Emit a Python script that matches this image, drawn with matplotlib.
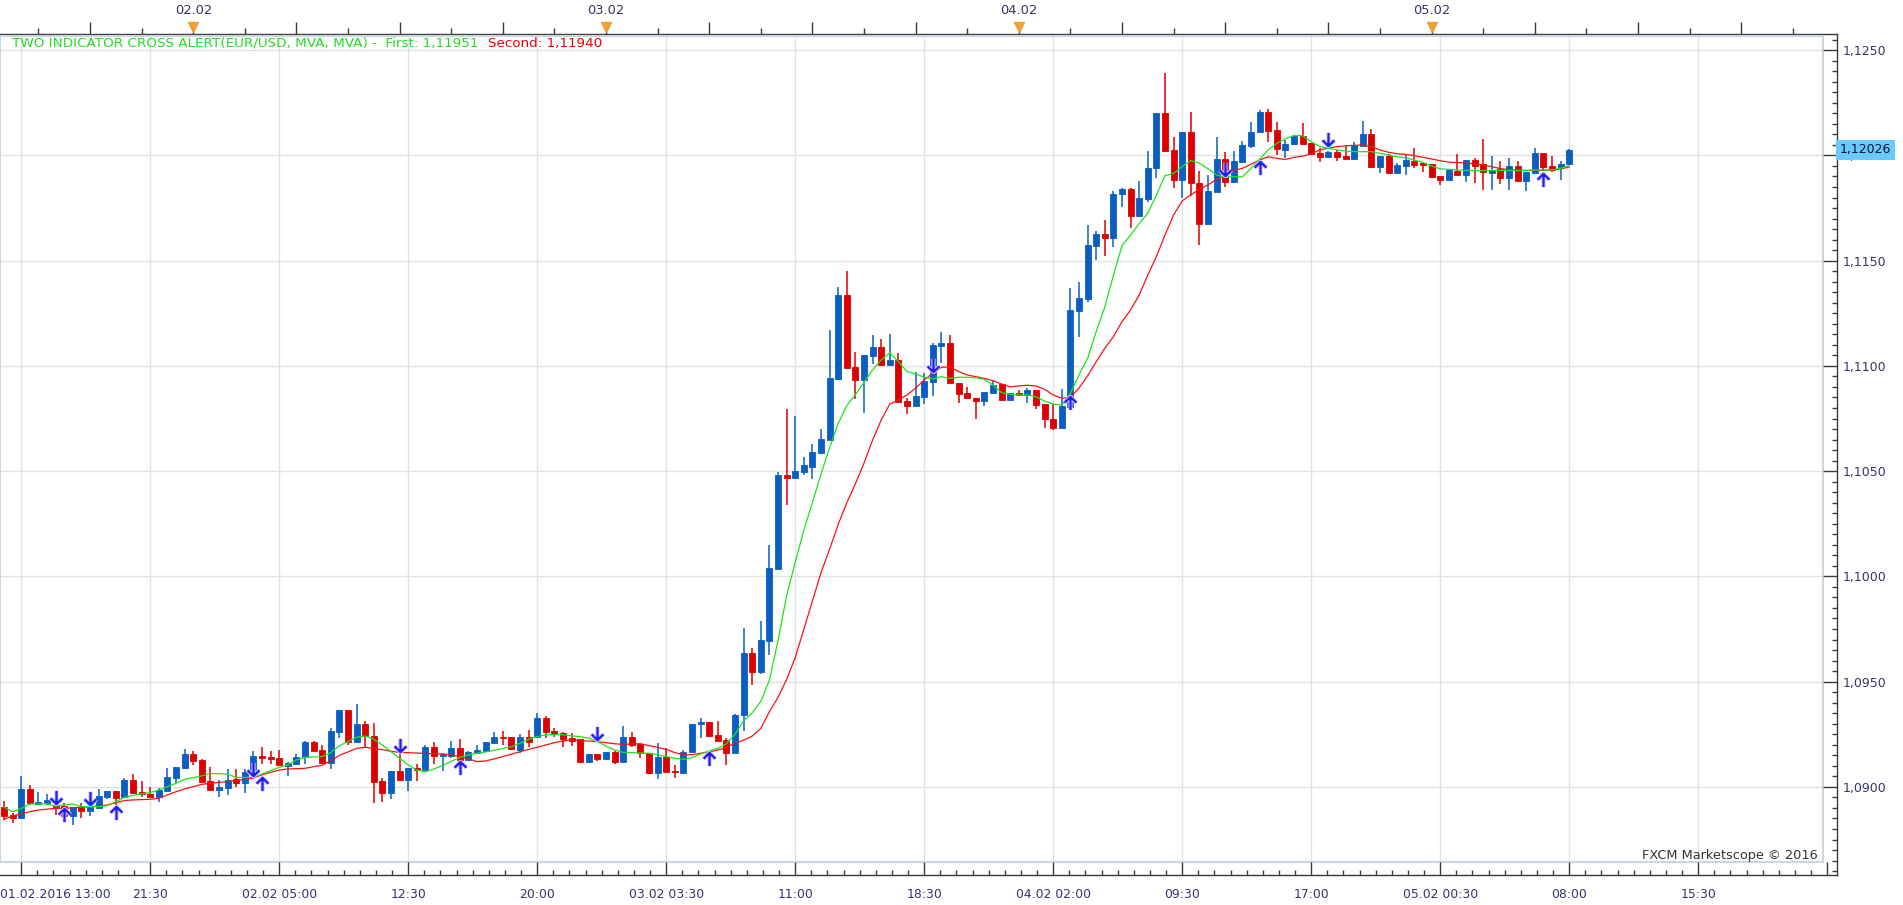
import numpy as np
import matplotlib
matplotlib.use('Agg')
import matplotlib.pyplot as plt
from matplotlib.ticker import FixedLocator, NullFormatter
from matplotlib.patches import Rectangle
from matplotlib.path import Path

# ---------------- data (EUR/USD, 30-min candles, 01.02.2016 13:00 -> 05.02.2016 08:00) -------------
open_ = [1.08906, 1.08866, 1.08851, 1.08990, 1.08919, 1.08925, 1.08914, 1.08909, 1.08862, 1.08906,
         1.08887, 1.08898, 1.08954, 1.08980, 1.08950, 1.09033, 1.08977, 1.08966, 1.08954, 1.08982,
         1.09041, 1.09088, 1.09156, 1.09128, 1.09030, 1.08985, 1.08996, 1.09036, 1.09020, 1.09068,
         1.09147, 1.09142, 1.09136, 1.09099, 1.09109, 1.09144, 1.09215, 1.09175, 1.09115, 1.09262,
         1.09365, 1.09215, 1.09299, 1.09242, 1.09030, 1.08970, 1.09076, 1.09033, 1.09088, 1.09080,
         1.09188, 1.09148, 1.09148, 1.09183, 1.09128, 1.09163, 1.09170, 1.09210, 1.09235, 1.09235,
         1.09175, 1.09235, 1.09235, 1.09326, 1.09266, 1.09254, 1.09231, 1.09226, 1.09120, 1.09156,
         1.09133, 1.09164, 1.09120, 1.09239, 1.09204, 1.09159, 1.09064, 1.09140, 1.09077, 1.09068,
         1.09164, 1.09297, 1.09307, 1.09247, 1.09223, 1.09159, 1.09340, 1.09638, 1.09548, 1.09695,
         1.10036, 1.10481, 1.10469, 1.10497, 1.10522, 1.10587, 1.10649, 1.10939, 1.11338, 1.10995,
         1.10934, 1.11047, 1.11088, 1.11004, 1.11028, 1.10835, 1.10811, 1.10854, 1.10925, 1.11095,
         1.11110, 1.10920, 1.10873, 1.10849, 1.10835, 1.10873, 1.10912, 1.10838, 1.10873, 1.10862,
         1.10886, 1.10819, 1.10748, 1.10704, 1.10806, 1.11263, 1.11318, 1.11570, 1.11627, 1.11609,
         1.11815, 1.11841, 1.11714, 1.11793, 1.11939, 1.12200, 1.12026, 1.11883, 1.12110, 1.11868,
         1.11674, 1.11828, 1.11983, 1.11875, 1.11970, 1.12046, 1.12110, 1.12205, 1.12121, 1.12026,
         1.12053, 1.12092, 1.12061, 1.12010, 1.11994, 1.12015, 1.11997, 1.11983, 1.12046, 1.12102,
         1.11947, 1.11999, 1.11918, 1.11951, 1.11975, 1.11962, 1.11958, 1.11902, 1.11883, 1.11928,
         1.11907, 1.11978, 1.11959, 1.11918, 1.11934, 1.11894, 1.11950, 1.11879, 1.11918, 1.12013,
         1.11950, 1.11947, 1.11958]
high = [1.08933, 1.08874, 1.09052, 1.09007, 1.08977, 1.08964, 1.08922, 1.08925, 1.08906, 1.08922,
        1.08930, 1.08990, 1.08980, 1.08980, 1.09044, 1.09061, 1.09030, 1.09001, 1.08993, 1.09088,
        1.09093, 1.09178, 1.09172, 1.09131, 1.09093, 1.09033, 1.09083, 1.09083, 1.09083, 1.09172,
        1.09188, 1.09170, 1.09175, 1.09120, 1.09156, 1.09218, 1.09220, 1.09199, 1.09278, 1.09365,
        1.09365, 1.09394, 1.09315, 1.09302, 1.09041, 1.09076, 1.09159, 1.09091, 1.09109, 1.09199,
        1.09212, 1.09159, 1.09218, 1.09226, 1.09172, 1.09199, 1.09215, 1.09262, 1.09266, 1.09235,
        1.09251, 1.09270, 1.09349, 1.09337, 1.09281, 1.09262, 1.09254, 1.09226, 1.09156, 1.09156,
        1.09167, 1.09172, 1.09289, 1.09262, 1.09210, 1.09159, 1.09210, 1.09183, 1.09104, 1.09175,
        1.09299, 1.09326, 1.09307, 1.09313, 1.09231, 1.09346, 1.09756, 1.09658, 1.09790, 1.10149,
        1.10497, 1.10796, 1.10764, 1.10567, 1.10631, 1.10702, 1.11171, 1.11376, 1.11451, 1.11067,
        1.11051, 1.11147, 1.11126, 1.11152, 1.11060, 1.10846, 1.10970, 1.10968, 1.11110, 1.11163,
        1.11147, 1.10920, 1.10901, 1.10849, 1.10875, 1.10930, 1.10912, 1.10873, 1.10886, 1.10894,
        1.10886, 1.10819, 1.10818, 1.10890, 1.11369, 1.11400, 1.11670, 1.11641, 1.11693, 1.11831,
        1.11847, 1.11847, 1.11879, 1.12021, 1.12200, 1.12390, 1.12089, 1.12110, 1.12205, 1.11926,
        1.11907, 1.12089, 1.12018, 1.12021, 1.12069, 1.12157, 1.12216, 1.12221, 1.12157, 1.12073,
        1.12097, 1.12155, 1.12061, 1.12034, 1.12023, 1.12026, 1.12045, 1.12065, 1.12164, 1.12126,
        1.11997, 1.12007, 1.11962, 1.12002, 1.12034, 1.11962, 1.11958, 1.11902, 1.11931, 1.12007,
        1.11978, 1.11986, 1.12078, 1.11997, 1.11974, 1.11986, 1.11974, 1.11923, 1.12034, 1.12013,
        1.11997, 1.11975, 1.12031]
low = [1.08843, 1.08827, 1.08851, 1.08914, 1.08914, 1.08914, 1.08866, 1.08835, 1.08819, 1.08854,
       1.08862, 1.08895, 1.08941, 1.08914, 1.08950, 1.08970, 1.08954, 1.08950, 1.08930, 1.08982,
       1.09017, 1.09085, 1.09104, 1.09025, 1.08985, 1.08954, 1.08962, 1.08998, 1.08973, 1.09049,
       1.09109, 1.09109, 1.09104, 1.09053, 1.09104, 1.09109, 1.09171, 1.09115, 1.09087, 1.09231,
       1.09199, 1.09215, 1.09191, 1.08922, 1.08930, 1.08941, 1.09033, 1.08982, 1.09030, 1.09080,
       1.09109, 1.09077, 1.09136, 1.09120, 1.09128, 1.09159, 1.09168, 1.09207, 1.09199, 1.09175,
       1.09159, 1.09191, 1.09235, 1.09231, 1.09239, 1.09191, 1.09194, 1.09120, 1.09120, 1.09125,
       1.09133, 1.09109, 1.09120, 1.09191, 1.09136, 1.09061, 1.09036, 1.09072, 1.09041, 1.09068,
       1.09164, 1.09231, 1.09239, 1.09220, 1.09106, 1.09159, 1.09267, 1.09486, 1.09535, 1.09627,
       1.10036, 1.10337, 1.10464, 1.10481, 1.10464, 1.10584, 1.10649, 1.10931, 1.10991, 1.10841,
       1.10774, 1.11009, 1.11000, 1.11004, 1.10830, 1.10770, 1.10811, 1.10818, 1.10857, 1.11016,
       1.10917, 1.10826, 1.10846, 1.10746, 1.10811, 1.10873, 1.10838, 1.10838, 1.10857, 1.10825,
       1.10795, 1.10704, 1.10696, 1.10704, 1.10791, 1.11136, 1.11305, 1.11503, 1.11522, 1.11563,
       1.11757, 1.11657, 1.11709, 1.11780, 1.11894, 1.12015, 1.11847, 1.11799, 1.11809, 1.11575,
       1.11669, 1.11828, 1.11848, 1.11871, 1.11966, 1.12034, 1.12110, 1.12065, 1.12002, 1.11986,
       1.12050, 1.12054, 1.12002, 1.11970, 1.11989, 1.11974, 1.11983, 1.11983, 1.12046, 1.11942,
       1.11918, 1.11918, 1.11912, 1.11907, 1.11942, 1.11923, 1.11899, 1.11860, 1.11883, 1.11907,
       1.11875, 1.11871, 1.11836, 1.11836, 1.11864, 1.11836, 1.11879, 1.11833, 1.11918, 1.11926,
       1.11923, 1.11883, 1.11955]
close = [1.08862, 1.08851, 1.08990, 1.08922, 1.08928, 1.08938, 1.08903, 1.08862, 1.08903, 1.08887,
         1.08906, 1.08957, 1.08980, 1.08946, 1.09033, 1.08973, 1.08966, 1.08954, 1.08985, 1.09045,
         1.09093, 1.09156, 1.09125, 1.09025, 1.08985, 1.09001, 1.09033, 1.09017, 1.09072, 1.09147,
         1.09136, 1.09133, 1.09104, 1.09112, 1.09144, 1.09215, 1.09172, 1.09115, 1.09265, 1.09365,
         1.09215, 1.09299, 1.09242, 1.09025, 1.08970, 1.09076, 1.09033, 1.09091, 1.09080, 1.09188,
         1.09148, 1.09156, 1.09183, 1.09128, 1.09164, 1.09175, 1.09212, 1.09235, 1.09231, 1.09178,
         1.09235, 1.09215, 1.09326, 1.09262, 1.09251, 1.09228, 1.09220, 1.09120, 1.09156, 1.09133,
         1.09167, 1.09120, 1.09239, 1.09199, 1.09159, 1.09064, 1.09144, 1.09072, 1.09069, 1.09167,
         1.09299, 1.09307, 1.09244, 1.09220, 1.09160, 1.09343, 1.09638, 1.09548, 1.09699, 1.10042,
         1.10484, 1.10469, 1.10502, 1.10527, 1.10590, 1.10652, 1.10944, 1.11338, 1.10991, 1.10934,
         1.11051, 1.11088, 1.11004, 1.11028, 1.10830, 1.10811, 1.10857, 1.10929, 1.11099, 1.11110,
         1.10917, 1.10867, 1.10846, 1.10835, 1.10875, 1.10909, 1.10838, 1.10873, 1.10862, 1.10886,
         1.10814, 1.10746, 1.10704, 1.10811, 1.11266, 1.11322, 1.11575, 1.11627, 1.11609, 1.11817,
         1.11841, 1.11714, 1.11796, 1.11939, 1.12200, 1.12021, 1.11883, 1.12110, 1.11868, 1.11674,
         1.11831, 1.11983, 1.11875, 1.11974, 1.12050, 1.12110, 1.12205, 1.12118, 1.12029, 1.12053,
         1.12092, 1.12054, 1.12007, 1.11994, 1.12015, 1.11994, 1.11983, 1.12050, 1.12102, 1.11947,
         1.11997, 1.11918, 1.11955, 1.11978, 1.11955, 1.11955, 1.11899, 1.11883, 1.11931, 1.11907,
         1.11978, 1.11951, 1.11920, 1.11931, 1.11894, 1.11950, 1.11879, 1.11923, 1.12013, 1.11947,
         1.11931, 1.11959, 1.12026]

# fast (green) moving average: candle index -> value
fast_idx = [0, 1, 2, 3, 5, 6, 8, 9, 11, 12, 13, 14, 15, 17, 18, 19, 20, 21, 23, 24, 26, 27, 29, 30, 31,
            32, 33, 34, 35, 37, 38, 39, 40, 41, 42, 43, 44, 45, 46, 47, 48, 49, 50, 51, 52, 53, 54, 55,
            56, 57, 58, 59, 60, 61, 62, 63, 65, 66, 67, 68, 69, 70, 71, 72, 73, 74, 75, 76, 77, 78, 79,
            80, 81, 82, 83, 84, 85, 86, 87, 88, 89, 90, 91, 92, 93, 94, 95, 96, 97, 98, 99, 100, 101,
            102, 103, 104, 105, 106, 107, 108, 109, 110, 111, 112, 113, 114, 115, 116, 117, 118, 119,
            120, 121, 122, 123, 124, 125, 126, 127, 128, 129, 130, 131, 132, 133, 134, 135, 136, 137,
            138, 139, 140, 141, 142, 143, 144, 145, 146, 147, 148, 149, 150, 151, 152, 153, 154, 155,
            156, 157, 158, 159, 160, 161, 162, 163, 164, 165, 166, 167, 168, 170, 172, 174, 176, 178,
            180, 181, 182]
fast_val = [1.08903, 1.08882, 1.08897, 1.08919, 1.08919, 1.08909, 1.08919, 1.08906, 1.08906, 1.08911,
            1.08930, 1.08950, 1.08960, 1.08973, 1.08985, 1.09001, 1.09017, 1.09036, 1.09052, 1.09064,
            1.09061, 1.09045, 1.09045, 1.09061, 1.09077, 1.09093, 1.09104, 1.09128, 1.09140, 1.09144,
            1.09163, 1.09196, 1.09215, 1.09236, 1.09242, 1.09226, 1.09199, 1.09167, 1.09136, 1.09104,
            1.09080, 1.09072, 1.09085, 1.09102, 1.09121, 1.09140, 1.09152, 1.09160, 1.09166, 1.09174,
            1.09182, 1.09191, 1.09207, 1.09226, 1.09239, 1.09247, 1.09248, 1.09242, 1.09239, 1.09231,
            1.09215, 1.09194, 1.09175, 1.09164, 1.09163, 1.09161, 1.09160, 1.09152, 1.09144, 1.09136,
            1.09131, 1.09139, 1.09156, 1.09171, 1.09183, 1.09205, 1.09250, 1.09314, 1.09352, 1.09406,
            1.09507, 1.09695, 1.09908, 1.10067, 1.10219, 1.10350, 1.10486, 1.10612, 1.10727, 1.10812,
            1.10864, 1.10922, 1.10981, 1.11028, 1.11063, 1.11020, 1.10973, 1.10962, 1.10946, 1.10938,
            1.10949, 1.10941, 1.10946, 1.10946, 1.10944, 1.10936, 1.10909, 1.10873, 1.10865, 1.10862,
            1.10862, 1.10854, 1.10833, 1.10819, 1.10814, 1.10870, 1.10957, 1.11036, 1.11163, 1.11280,
            1.11430, 1.11571, 1.11622, 1.11677, 1.11725, 1.11812, 1.11904, 1.11915, 1.11947, 1.11976,
            1.11963, 1.11937, 1.11907, 1.11896, 1.11899, 1.11899, 1.11939, 1.11981, 1.12026, 1.12057,
            1.12080, 1.12094, 1.12094, 1.12065, 1.12042, 1.12034, 1.12026, 1.12021, 1.12018, 1.12018,
            1.12018, 1.12010, 1.12002, 1.11994, 1.11989, 1.11978, 1.11966, 1.11950, 1.11936, 1.11934,
            1.11929, 1.11928, 1.11929, 1.11928, 1.11931, 1.11931, 1.11939, 1.11951]

# slow (red) moving average
slow_idx = [0, 1, 3, 4, 6, 7, 9, 10, 12, 13, 14, 15, 17, 18, 19, 20, 21, 22, 23, 24, 26, 27, 29, 30, 31,
            32, 33, 35, 36, 37, 38, 39, 40, 41, 42, 43, 44, 45, 46, 48, 49, 51, 52, 53, 54, 55, 56, 57,
            58, 59, 60, 61, 62, 63, 64, 65, 66, 68, 69, 70, 71, 72, 73, 74, 75, 76, 77, 78, 79, 80, 81,
            82, 83, 84, 85, 86, 87, 88, 89, 90, 91, 92, 93, 94, 95, 96, 97, 98, 99, 100, 101, 102, 103,
            104, 105, 106, 107, 108, 109, 110, 111, 112, 113, 114, 115, 116, 117, 118, 119, 120, 121,
            122, 123, 124, 125, 126, 127, 128, 129, 130, 131, 132, 133, 134, 135, 136, 137, 138, 139,
            140, 141, 142, 143, 144, 145, 146, 147, 148, 149, 150, 151, 152, 153, 154, 155, 156, 157,
            158, 159, 160, 161, 162, 163, 164, 165, 166, 167, 168, 170, 172, 173, 174, 176, 178, 180,
            181, 182]
slow_val = [1.08846, 1.08862, 1.08882, 1.08890, 1.08898, 1.08898, 1.08903, 1.08906, 1.08914, 1.08925,
            1.08935, 1.08938, 1.08941, 1.08946, 1.08962, 1.08977, 1.08990, 1.09001, 1.09012, 1.09017,
            1.09025, 1.09030, 1.09042, 1.09057, 1.09069, 1.09080, 1.09085, 1.09088, 1.09096, 1.09103,
            1.09124, 1.09150, 1.09166, 1.09183, 1.09188, 1.09183, 1.09177, 1.09169, 1.09164, 1.09161,
            1.09160, 1.09156, 1.09152, 1.09144, 1.09133, 1.09120, 1.09123, 1.09133, 1.09144, 1.09155,
            1.09167, 1.09178, 1.09188, 1.09199, 1.09210, 1.09218, 1.09223, 1.09218, 1.09215, 1.09210,
            1.09205, 1.09202, 1.09204, 1.09205, 1.09196, 1.09188, 1.09178, 1.09163, 1.09152, 1.09153,
            1.09160, 1.09166, 1.09175, 1.09188, 1.09207, 1.09222, 1.09241, 1.09278, 1.09357, 1.09425,
            1.09510, 1.09614, 1.09749, 1.09884, 1.10018, 1.10129, 1.10247, 1.10350, 1.10440, 1.10538,
            1.10648, 1.10743, 1.10819, 1.10838, 1.10862, 1.10894, 1.10933, 1.10965, 1.10993, 1.10996,
            1.10973, 1.10957, 1.10949, 1.10941, 1.10930, 1.10914, 1.10901, 1.10905, 1.10908, 1.10905,
            1.10889, 1.10862, 1.10846, 1.10850, 1.10895, 1.10953, 1.11020, 1.11084, 1.11139, 1.11210,
            1.11266, 1.11337, 1.11432, 1.11519, 1.11622, 1.11717, 1.11784, 1.11813, 1.11839, 1.11860,
            1.11886, 1.11907, 1.11928, 1.11939, 1.11958, 1.11978, 1.11994, 1.11986, 1.11981, 1.11991,
            1.11997, 1.12007, 1.12026, 1.12035, 1.12042, 1.12046, 1.12048, 1.12050, 1.12042, 1.12026,
            1.12015, 1.12008, 1.12005, 1.11999, 1.11991, 1.11983, 1.11975, 1.11968, 1.11964, 1.11955,
            1.11947, 1.11937, 1.11929, 1.11928, 1.11931, 1.11936, 1.11945]

# cross-alert arrows
arrow_idx = [6, 7, 10, 13, 29, 30, 46, 53, 69, 82, 108, 124, 142, 146, 154, 179]
arrow_dir = ['down', 'up', 'down', 'up', 'down', 'up', 'down', 'up', 'down', 'up', 'down', 'up',
             'down', 'up', 'down', 'up']
arrow_price = [1.08954, 1.08866, 1.08946, 1.08877, 1.09085, 1.09015, 1.09199, 1.09088, 1.09254,
               1.09131, 1.11004, 1.10825, 1.11934, 1.11939, 1.12076, 1.11883]

# axis labels
bottom_tick_idx = [2, 17, 32, 47, 62, 77, 92, 107, 122, 137, 152, 167, 182, 197, 212]
bottom_tick_labels = ['', '21:30', '02.02 05:00', '12:30', '20:00', '03.02 03:30', '11:00', '18:30',
                      '04.02 02:00', '09:30', '17:00', '05.02 00:30', '08:00', '15:30', '']
first_label = '01.02.2016 13:00'
day_idx = [22, 70, 118, 166]
day_labels = ['02.02', '03.02', '04.02', '05.02']
price_ticks = [1.0900, 1.0950, 1.1000, 1.1050, 1.1100, 1.1150, 1.1200, 1.1250]
price_labels = ['1,0900', '1,0950', '1,1000', '1,1050', '1,1100', '1,1150', '1,1200', '1,1250']
legend_green = 'TWO INDICATOR CROSS ALERT(EUR/USD, MVA, MVA) -  First: 1,11951'
legend_red = 'Second: 1,11940'
last_price_label = '1,12026'
last_price = 1.12026
copyright_text = 'FXCM Marketscope \u00a9 2016'

# ---------------- styling / layout ----------------
plt.rcParams['font.family'] = ['DejaVu Sans']
W, H = 1903, 905
TXT = '#34346e'
SPINE = '#3a3a3a'
GRID = '#e2e2e2'
FRAME = '#cdd5df'
BULL = '#0a5ec2'
BEAR = '#de0000'

fig = plt.figure(figsize=(W / 100, H / 100), dpi=100)
fig.patch.set_facecolor('white')
AX_L, AX_R, AX_T, AX_B = 0, 1837, 34, 875
ax = fig.add_axes([AX_L / W, 1 - AX_B / H, (AX_R - AX_L) / W, (AX_B - AX_T) / H])
ax.set_facecolor('white')

# data <-> pixel mapping measured on the reference
ax.set_xlim((0 - 4) / 8.6, (AX_R - 4) / 8.6)
ax.set_ylim(1.125 - (AX_B - 50.2) / 105.24 * 0.005, 1.125 + (50.2 - AX_T) / 105.24 * 0.005)

fx1 = 1823 / (AX_R - AX_L)
fy0 = (AX_B - 862) / (AX_B - AX_T)
fy1 = (AX_B - 36) / (AX_B - AX_T)

# grid (inside frame only)
for gx in bottom_tick_idx:
    xp = 4 + 8.6 * gx
    if xp < 1820:
        ax.axvline(gx, ymin=fy0, ymax=fy1, color=GRID, lw=1.0, zorder=0)
for gy in price_ticks:
    ax.axhline(gy, xmin=0, xmax=fx1, color=GRID, lw=1.0, zorder=0)

# inner frame
ax.add_patch(Rectangle((0, fy0), fx1, fy1 - fy0, transform=ax.transAxes, fill=False,
                       edgecolor=FRAME, lw=1.5, zorder=1, clip_on=False))

# candles
idx = np.arange(len(close))
o = np.array(open_); c = np.array(close); h = np.array(high); l = np.array(low)
cols = np.where(c >= o, BULL, BEAR)
ax.vlines(idx, l, h, colors=cols, lw=1.1, zorder=3)
ax.bar(idx, np.abs(c - o), bottom=np.minimum(o, c), width=0.68, color=cols, edgecolor=cols,
       linewidth=0.6, zorder=4)

# moving averages
ax.plot(slow_idx, slow_val, color='#ff1010', lw=0.9, zorder=5)
ax.plot(fast_idx, fast_val, color='#19e619', lw=0.9, zorder=6)

# alert arrows (shaft + open chevron head)
M, L_ = Path.MOVETO, Path.LINETO
up_arrow = Path([(0, -1), (0, 1), (-0.9, 0.12), (0, 1), (0.9, 0.12)], [M, L_, M, L_, L_])
down_arrow = Path([(0, 1), (0, -1), (-0.9, -0.12), (0, -1), (0.9, -0.12)], [M, L_, M, L_, L_])
for d, mk in (('up', up_arrow), ('down', down_arrow)):
    xs = [a for a, dd in zip(arrow_idx, arrow_dir) if dd == d]
    ys = [p for p, dd in zip(arrow_price, arrow_dir) if dd == d]
    ax.plot(xs, ys, linestyle='none', marker=mk, markersize=9.5, markerfacecolor='none',
            markeredgecolor='#d6c2ff', markeredgewidth=3.0, zorder=7)
    ax.plot(xs, ys, linestyle='none', marker=mk, markersize=9.5, markerfacecolor='none',
            markeredgecolor='#1e1ef5', markeredgewidth=1.6, zorder=8)

# spines
for s in ['left', 'top']:
    ax.spines[s].set_visible(False)
for s in ['bottom', 'right']:
    ax.spines[s].set_color(SPINE)
    ax.spines[s].set_linewidth(1.0)

# bottom axis
ax.xaxis.set_major_locator(FixedLocator(bottom_tick_idx))
ax.set_xticklabels(bottom_tick_labels)
ax.xaxis.set_minor_locator(FixedLocator(np.arange(2, 214, 15 / 8)))
ax.tick_params(axis='x', which='major', direction='in', length=9.5, width=1, color=SPINE,
               labelsize=8.9, labelcolor=TXT, pad=9)
ax.tick_params(axis='x', which='minor', direction='in', length=3.5, width=1, color=SPINE)
ax.text(0, -(9 * 100 / 72) / (AX_B - AX_T), first_label, transform=ax.transAxes, ha='left',
        va='top', fontsize=8.9, color=TXT)

# right axis
ax.yaxis.tick_right()
ax.yaxis.set_major_locator(FixedLocator(price_ticks))
ax.set_yticklabels(price_labels)
ax.yaxis.set_minor_locator(FixedLocator(np.arange(1.0860, 1.1260, 0.0005)))
ax.tick_params(axis='y', which='major', direction='in', length=10, width=1, color=SPINE,
               labelsize=9, labelcolor=TXT, pad=4)
ax.tick_params(axis='y', which='minor', direction='in', length=3.5, width=1, color=SPINE)

# top axis
sec = ax.secondary_xaxis('top')
sec.spines['top'].set_color(SPINE)
sec.spines['top'].set_linewidth(1.0)
top_major = list(range(10, 214, 12))
sec.xaxis.set_major_locator(FixedLocator(top_major))
sec.set_xticklabels([day_labels[day_idx.index(t)] if t in day_idx else '' for t in top_major])
sec.xaxis.set_minor_locator(FixedLocator(list(range(4, 214, 12))))
sec.xaxis.set_minor_formatter(NullFormatter())
sec.tick_params(axis='x', which='major', direction='out', length=8.5, width=1, color=SPINE,
                labelsize=9.4, labelcolor=TXT, pad=4)
sec.tick_params(axis='x', which='minor', direction='out', length=4.5, width=1, color=SPINE)

# orange day markers on the top axis
ax.plot(day_idx, [1 + (AX_T - 27.5) / (AX_B - AX_T)] * len(day_idx), linestyle='none',
        marker='v', markersize=7.5, color='#f0a030', transform=ax.get_xaxis_transform(),
        clip_on=False, zorder=10)

# indicator legend
t1 = fig.text(12 / W, 1 - 43 / H, legend_green, color='#22dd22', fontsize=9.7, ha='left',
              va='center')
fig.canvas.draw()
bb = t1.get_window_extent()
fig.text((bb.x1 + 10) / W, 1 - 43 / H, legend_red, color='#ee0000', fontsize=9.7, ha='left',
         va='center')

# last price box (covers the 1,1200 label, as in the original)
py = 50.2 + (1.125 - last_price) / 0.005 * 105.24
fig.text(1840 / W, 1 - py / H, last_price_label, fontsize=9, color='#101030', ha='left',
         va='center', zorder=20,
         bbox=dict(boxstyle='square,pad=0.3', facecolor='#66ccff', edgecolor='none'))

# copyright
fig.text(1818 / W, 1 - 855 / H, copyright_text, fontsize=9.3, color='#333333', ha='right',
         va='center')

fig.savefig('out.png', dpi=100, facecolor='white')
